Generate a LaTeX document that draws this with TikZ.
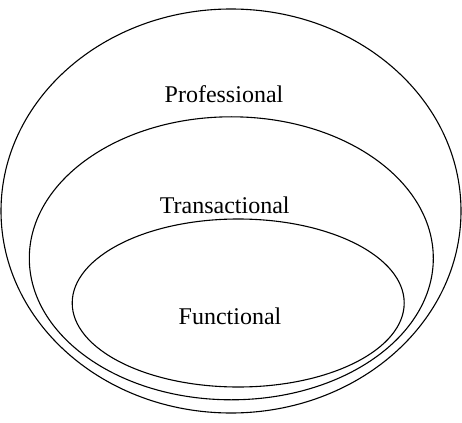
\documentclass[tikz,border=0pt]{standalone}
\usepackage{fontspec}
\setmainfont{Liberation Serif}
\begin{document}
\begin{tikzpicture}[x=1pt,y=-1pt,
  ring/.style={draw=black,line width=1.1pt},
  lbl/.style={font=\fontsize{24}{28}\selectfont,anchor=base,inner sep=0pt}]
\useasboundingbox (0,0) rectangle (462,422);
\draw[ring] (231,211) ellipse [x radius=230, y radius=202];
\draw[ring] (231.3,258.3) ellipse [x radius=202, y radius=141.5];
\draw[ring] (238.2,303) ellipse [x radius=166, y radius=84];
\node[lbl] (prof) at (224,103) {Professional};
\node[lbl] (trans) at (224.7,213.3) {Transactional};
\node[lbl] (func) at (230,324) {Functional};
\end{tikzpicture}
\end{document}
